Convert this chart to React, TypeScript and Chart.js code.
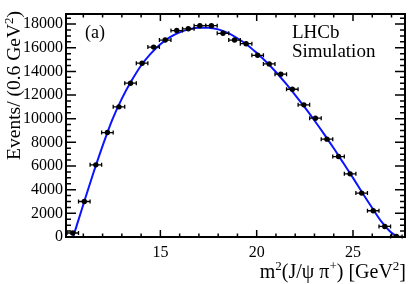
import { useEffect, useRef } from "react";
import { Chart, registerables } from "chart.js";

Chart.register(...registerables);

// ---- data ----
const binCenters = [
  10.45, 11.05, 11.65, 12.25, 12.85, 13.45, 14.05, 14.65, 15.25, 15.85,
  16.45, 17.05, 17.65, 18.25, 18.85, 19.45, 20.05, 20.65, 21.25, 21.85,
  22.45, 23.05, 23.65, 24.25, 24.85, 25.45, 26.05, 26.65, 27.25,
];
const binCounts = [
  340, 3000, 6100, 8830, 11000, 13000, 14690, 16050, 16650, 17450,
  17600, 17860, 17860, 17220, 16650, 16340, 15360, 14630, 13760, 12490,
  11170, 10040, 8270, 6800, 5340, 3710, 2220, 890, 50,
];
const binHalfWidth = 0.3;

const fitX = [
  10.47, 11.0, 11.5, 12.0, 12.5, 13.0, 13.5, 14.0, 14.5, 15.0, 15.5, 16.0,
  16.5, 17.0, 17.5, 18.0, 18.5, 19.0, 19.5, 20.0, 20.5, 21.0, 21.5, 22.0,
  22.5, 23.0, 23.5, 24.0, 24.5, 25.0, 25.5, 26.0, 26.5, 27.0, 27.35,
];
const fitY = [
  0, 2750, 5300, 7700, 9900, 11700, 13200, 14500, 15500, 16300, 16900, 17300,
  17550, 17680, 17680, 17550, 17250, 16800, 16250, 15550, 14800, 13950, 13000, 12000,
  10950, 9850, 8700, 7500, 6250, 5000, 3700, 2450, 1250, 350, 0,
];

const xTickLabels = [15, 20, 25];
const yTickLabels = [0, 2000, 4000, 6000, 8000, 10000, 12000, 14000, 16000, 18000];
const X_MIN = 10.1;
const X_MAX = 27.7;
const Y_MAX = 18850;

const SERIF = "'Liberation Serif', 'Times New Roman', Times, serif";

type Part = { t: string; sup?: boolean };

function drawRich(ctx: CanvasRenderingContext2D, parts: Part[], xRight: number, y: number, size: number) {
  const supSize = Math.round(size * 0.65);
  let w = 0;
  const widths = parts.map((p) => {
    ctx.font = `${p.sup ? supSize : size}px ${SERIF}`;
    const m = ctx.measureText(p.t).width;
    w += m;
    return m;
  });
  let x = xRight - w;
  parts.forEach((p, i) => {
    ctx.font = `${p.sup ? supSize : size}px ${SERIF}`;
    ctx.fillText(p.t, x, p.sup ? y - size * 0.38 : y);
    x += widths[i];
  });
}

const decorPlugin = {
  id: "decor",
  afterDatasetsDraw(chart: any) {
    const { ctx, chartArea: a, scales } = chart;
    const xs = scales.x;
    const ys = scales.y;
    ctx.save();
    // horizontal error bars
    ctx.strokeStyle = "#000";
    ctx.lineWidth = 1.3;
    binCenters.forEach((c, i) => {
      const x0 = xs.getPixelForValue(c - binHalfWidth);
      const x1 = xs.getPixelForValue(c + binHalfWidth);
      const py = ys.getPixelForValue(binCounts[i]);
      ctx.beginPath();
      ctx.moveTo(x0, py);
      ctx.lineTo(x1, py);
      ctx.moveTo(x0, py - 2);
      ctx.lineTo(x0, py + 2);
      ctx.moveTo(x1, py - 2);
      ctx.lineTo(x1, py + 2);
      ctx.stroke();
    });
    // frame
    ctx.lineWidth = 2;
    ctx.strokeRect(a.left, a.top, a.right - a.left, a.bottom - a.top);
    // ticks
    ctx.lineWidth = 1.5;
    ctx.beginPath();
    for (let v = Math.ceil(X_MIN); v <= X_MAX; v++) {
      const px = xs.getPixelForValue(v);
      const len = v % 5 === 0 ? 7 : 3.5;
      ctx.moveTo(px, a.bottom);
      ctx.lineTo(px, a.bottom - len);
      ctx.moveTo(px, a.top);
      ctx.lineTo(px, a.top + len);
    }
    for (let v = 0; v <= Y_MAX; v += 500) {
      const py = ys.getPixelForValue(v);
      const len = v % 2000 === 0 ? 10 : 5;
      ctx.moveTo(a.left, py);
      ctx.lineTo(a.left + len, py);
      ctx.moveTo(a.right, py);
      ctx.lineTo(a.right - len, py);
    }
    ctx.stroke();

    // texts
    ctx.fillStyle = "#000";
    ctx.textBaseline = "alphabetic";
    ctx.textAlign = "left";
    ctx.font = `18px ${SERIF}`;
    ctx.fillText("(a)", 85, 38);
    ctx.font = `19px ${SERIF}`;
    ctx.fillText("LHCb", 292, 38);
    ctx.fillText("Simulation", 292, 57);

    drawRich(
      ctx,
      [
        { t: "m" },
        { t: "2", sup: true },
        { t: "(J/\u03c8 \u03c0" },
        { t: "+", sup: true },
        { t: ") [GeV" },
        { t: "2", sup: true },
        { t: "]" },
      ],
      406,
      278,
      20
    );

    ctx.translate(20, 11);
    ctx.rotate(-Math.PI / 2);
    drawRich(
      ctx,
      [{ t: "Events/ (0.6 GeV" }, { t: "2", sup: true }, { t: ")" }],
      0,
      0,
      19.5
    );
    ctx.restore();
  },
};

export default function App() {
  const ref = useRef<HTMLCanvasElement | null>(null);
  useEffect(() => {
    document.body.style.margin = "0";
    const canvas = ref.current;
    if (!canvas) return;
    const chart = new Chart(canvas, {
      type: "scatter",
      data: {
        datasets: [
          {
            label: "data",
            data: binCenters.map((x, i) => ({ x, y: binCounts[i] })),
            pointRadius: 2.7,
            pointBackgroundColor: "#000",
            pointBorderColor: "#000",
            pointBorderWidth: 0,
            showLine: false,
            order: 0,
          },
          {
            label: "fit",
            data: fitX.map((x, i) => ({ x, y: fitY[i] })),
            showLine: true,
            pointRadius: 0,
            borderColor: "#0a14ff",
            borderWidth: 2,
            cubicInterpolationMode: "monotone",
            order: 1,
          },
        ],
      },
      options: {
        responsive: false,
        animation: false,
        devicePixelRatio: 1,
        layout: { padding: { top: 14, right: 14, left: 0, bottom: 0 } },
        plugins: { legend: { display: false }, tooltip: { enabled: false } },
        scales: {
          x: {
            type: "linear",
            min: X_MIN,
            max: X_MAX,
            grid: { display: false, drawTicks: false },
            border: { display: false },
            afterBuildTicks: (s: any) => {
              s.ticks = xTickLabels.map((v) => ({ value: v }));
            },
            afterFit: (s: any) => {
              s.height = 47;
            },
            ticks: {
              padding: 6,
              color: "#000",
              font: { family: SERIF, size: 16 },
              maxRotation: 0,
              autoSkip: false,
              callback: (v: any) => String(v),
            },
          },
          y: {
            type: "linear",
            min: 0,
            max: Y_MAX,
            grid: { display: false, drawTicks: false },
            border: { display: false },
            afterBuildTicks: (s: any) => {
              s.ticks = yTickLabels.map((v) => ({ value: v }));
            },
            afterFit: (s: any) => {
              s.width = 66;
            },
            ticks: {
              padding: 3,
              color: "#000",
              font: { family: SERIF, size: 16 },
              autoSkip: false,
              callback: (v: any) => String(v),
            },
          },
        },
      },
      plugins: [decorPlugin],
    });
    return () => chart.destroy();
  }, []);
  return <canvas ref={ref} width={419} height={284} style={{ display: "block" }} />;
}
